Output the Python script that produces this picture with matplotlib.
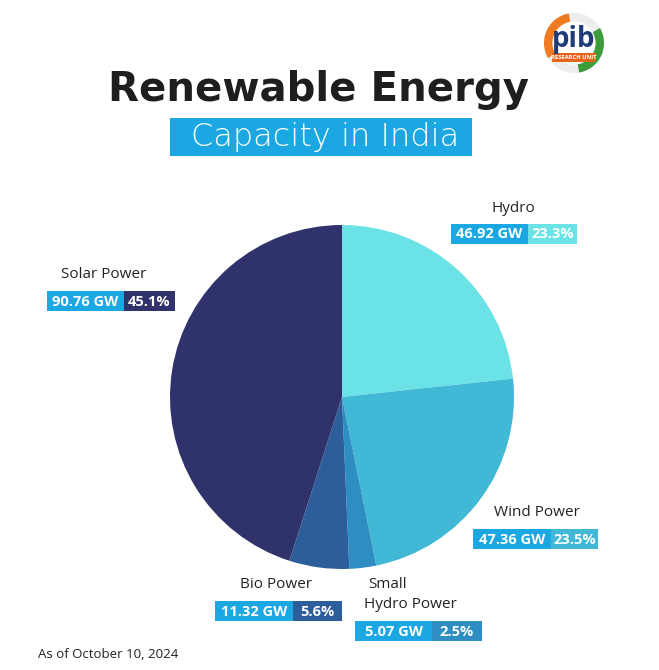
import matplotlib
matplotlib.use("Agg")
import matplotlib.pyplot as plt
from matplotlib.patches import Rectangle, Circle, Wedge

# ---- data ----
categories = ["Hydro", "Wind Power", "Small\nHydro Power", "Bio Power", "Solar Power"]
capacity_gw = [46.92, 47.36, 5.07, 11.32, 90.76]
share_pct = [23.3, 23.5, 2.5, 5.6, 45.1]
slice_colors = ["#6BE3E6", "#40B8D6", "#2E8EC2", "#2D5E9C", "#30336B"]
title = "Renewable Energy"
subtitle = "Capacity in India"
footnote = "As of October 10, 2024"

W, H = 659, 670
fig = plt.figure(figsize=(W / 100, H / 100), dpi=100)
fig.patch.set_facecolor("white")

# overlay axes in pixel coords
ov = fig.add_axes([0, 0, 1, 1])
ov.set_xlim(0, W)
ov.set_ylim(H, 0)
ov.axis("off")

# pie axes
cx, cy, r = 342, 397, 172
pax = fig.add_axes([(cx - r) / W, (H - cy - r) / H, 2 * r / W, 2 * r / H])
pax.pie(capacity_gw, colors=slice_colors, startangle=90, counterclock=False,
        wedgeprops=dict(linewidth=0))
pax.set_xlim(-1, 1)
pax.set_ylim(-1, 1)
pax.set_aspect("equal")
pax.axis("off")

BLUE = "#1BA7E1"
FONT = ["Open Sans", "DejaVu Sans"]

# title
ov.text(319, 90, title, ha="center", va="center", fontsize=29, fontweight="heavy",
        family=["DejaVu Sans"], color="#1E1E1E")
ov.add_patch(Rectangle((170, 118), 302, 38, facecolor=BLUE, edgecolor="none"))
ov.text(325, 137, subtitle, ha="center", va="center", fontsize=23,
        family=["DejaVu Sans"], color="white", fontweight=200)

# labels: (name text center, box left, box mid, box right, box top)
label_pos = [
    ((513, 209), 451, 528, 577, 224),
    ((537, 513), 473, 551, 598, 529),
    ((408, 594), 355, 432, 482, 621),
    ((276, 585), 215, 293, 342, 601),
    ((104, 275), 47, 124, 175, 291),
]
for name, gw, pct, col, (tpos, x0, xm, x1, yt) in zip(categories, capacity_gw, share_pct,
                                                      slice_colors, label_pos):
    if "\n" in name:
        l1, l2 = name.split("\n")
        ov.text(388, 584, l1, ha="center", va="center", fontsize=11, family=FONT, color="#222222")
        ov.text(410, 605, l2, ha="center", va="center", fontsize=11, family=FONT, color="#222222")
    else:
        ov.text(tpos[0], tpos[1], name, ha="center", va="center", fontsize=11,
                family=FONT, color="#222222")
    bh = 20
    ov.add_patch(Rectangle((x0, yt), xm - x0, bh, facecolor=BLUE, edgecolor="none"))
    ov.add_patch(Rectangle((xm, yt), x1 - xm, bh, facecolor=col, edgecolor="none"))
    ov.text((x0 + xm) / 2, yt + bh / 2 + 0.5, f"{gw:.2f} GW", ha="center", va="center",
            fontsize=10.5, fontweight="bold", family=FONT, color="white")
    ov.text((xm + x1) / 2, yt + bh / 2 + 0.5, f"{pct:.1f}%", ha="center", va="center",
            fontsize=10.5, fontweight="bold", family=FONT, color="white")

# footnote
ov.text(38, 654, footnote, ha="left", va="center", fontsize=9.5, family=FONT, color="#222222")

# logo (simplified)
lx, ly, lr = 574, 43, 30
ov.add_patch(Circle((lx, ly), lr, facecolor="#EDEDED", edgecolor="none"))
ov.add_patch(Wedge((lx, ly), lr, 150, 260, facecolor="#F07A22", edgecolor="none"))
ov.add_patch(Wedge((lx, ly), lr, 330, 80, facecolor="#3E9B3A", edgecolor="none"))
ov.add_patch(Circle((lx, ly), lr * 0.72, facecolor="white", edgecolor="none"))
ov.text(lx, ly - 3, "pib", ha="center", va="center", fontsize=20, family=FONT,
        color="#1F3C78", fontweight="bold")
ov.add_patch(Rectangle((lx - 22, ly + 10), 44, 9, facecolor="#E8641B", edgecolor="none"))
ov.text(lx, ly + 14.5, "RESEARCH UNIT", ha="center", va="center", fontsize=4.2,
        family=FONT, color="white", fontweight="bold")

fig.savefig("out.png", dpi=100, facecolor="white")
